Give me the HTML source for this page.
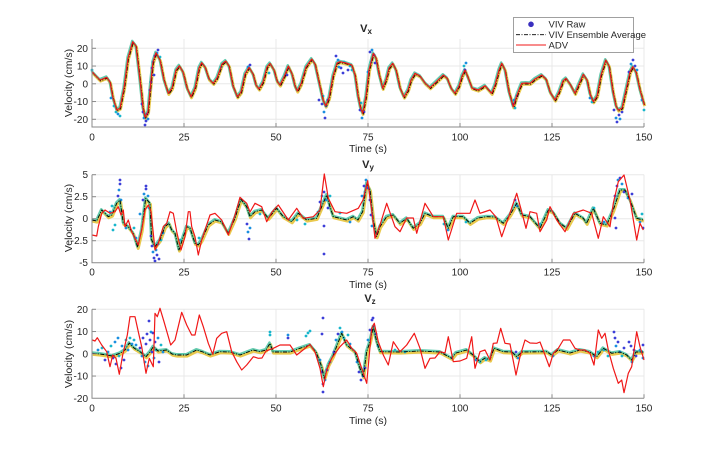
<!DOCTYPE html>
<html><head><meta charset="utf-8"><style>
html,body{margin:0;padding:0;background:#fff;}
svg{display:block;}
text{font-family:"Liberation Sans",sans-serif;fill:#262626;}
.tk{font-size:10px;}
.lb{font-size:10.5px;}
.ti{font-size:11px;font-weight:bold;}
.lg{font-size:9.5px;}
.grid line{stroke:#e8e8e8;stroke-width:1;}
.ax{stroke:#8a8a8a;stroke-width:1;fill:none;}
.yb{fill:none;stroke:#e6bf2e;stroke-width:3;stroke-linejoin:round;opacity:.85;}
.gb{fill:none;stroke:#3fbf9c;stroke-width:2.4;stroke-linejoin:round;opacity:.8;}
.bk{fill:none;stroke:#000;stroke-width:0.9;stroke-dasharray:4 1.5 1 1.5;stroke-linejoin:round;}
.rd{fill:none;stroke:#f01818;stroke-width:1.2;stroke-linejoin:round;}
.b1{fill:#3d3fd8;} .b2{fill:#1a8fe0;} .b3{fill:#18b6cc;}
</style></head><body>
<svg width="712" height="450" viewBox="0 0 712 450" xmlns="http://www.w3.org/2000/svg">
<rect width="712" height="450" fill="#fff"/>
<defs>
<polyline id="vx" points="92,71.7 96,76 100,80 106.7,77.3 110,82 113,98 116.7,110 120,108 124,88 128,58 132.7,41.7 136,46 140,80 143,108 145,117.3 148,112 151,80 153,62 156,52.7 160,60 164,80 168.3,93.3 172,88 176,70 179.3,65.7 183,72 187,88 191,96.7 195,88 199,68 201.7,62.7 205,67 209,79 213.3,83.3 217,78 222,64 225.7,61 229,66 233,86 237.3,96.7 241,92 245,74 249,67.3 253,74 256,85 259,89 263,82 267,67 270,63.3 274,70 277,81 280,85 284,77 288.3,66 292,74 295,86 297.3,91 301,84 306,67 311.7,59 315,64 319,82 323,100 325.7,106 329,98 333,76 337,63 340,61.7 346,63 351.7,65 355,75 358,96 360.5,108 362.7,113.3 366,96 369,70 373.3,53.3 376,58 379,74 382.7,88.3 386,80 389,68 392.7,63.3 396,70 400,88 404,97 408,90 411,80 415,73.3 420,76 425,83 430,87.7 436,82 443.3,75 447,78 451,88 455,93.3 459,86 462,76 465,70 469,80 472,88 478,90 485,85.7 491.7,93.3 495,85 499,70 501.7,63.3 505,70 509,92 513.3,106.7 517,95 521.7,83.3 526,83 530,83.3 535,79 541.7,75 546,79 550,92 555,100 559,92 563,81 566,78.3 570,84 575,93.3 579,84 583.3,74.3 587,80 590,94 593.3,101.7 597,96 601,75 605.7,60 609,66 613,92 616,106 618.3,110 622,108 626,90 630,72 632.7,66.7 636,72 640,90 644.3,105"/>
<polyline id="vy" points="92,220 96.7,221 101.7,210 108.3,216.7 112,215 116.7,203.3 120,200 123.3,223.3 128.3,226.7 133.3,233.3 137.7,247.3 141.7,230 145.7,198.3 150,203.3 151.7,240 155,246.7 160,240 165,226.7 169,223.3 171.7,230 175,233.3 179,250 183.3,236.7 186.7,226.7 190,228 195,243.3 198.3,245 201.7,240 208.3,225 215,220 221.7,222 228.3,233.3 235,218.3 241,199.3 246.7,206.7 250,216.7 255,211.7 261.7,210 268.3,218.3 276.7,208.3 283.3,216.7 291.7,221.7 298.3,213.3 306.7,220 316.7,218.3 321.7,206.7 326.7,195 330,206.7 333.3,216.7 340,218.3 346.7,220 353.3,216.7 358,220 362.7,211.7 366.7,183.3 370,190 373.3,220 376.7,236.7 380,226.7 386.7,216.7 393.3,215 400,223.3 406.7,218.3 413.3,228.3 420,223.3 425,213.3 433.3,216.7 443.3,216.7 448.3,228.3 453.3,216.7 463.3,216.7 470,223.3 478,218 486.7,216.7 495,217 503.3,223.3 510,215 516.7,203.3 521.7,215 530,216.7 540,228.3 548.3,210 553,212 560,223.3 566.7,228.3 575,213.3 583.3,218.3 586.7,223.3 593.3,208.3 600,223.3 606.7,225 613.3,210 620,190 625,190 630,200 636.7,218.3 643.3,220"/>
<polyline id="vz" points="92.3,353.3 100,354 106.7,355 112,356 120,353.3 125,350 129.3,343 134,348 140,351.7 146,356.7 150,352 153.3,346.7 158,351 166.7,350 172,354 176.7,355 186.7,355 196.7,350 203,352 210,355 220,351.7 230,352 240,355 253.3,350 260,351.7 266,350 270,343.3 273,352 280,352 290,352 300,348.3 310,345 316,352 321.7,366.7 324.3,378.3 328.3,365 333,356 341.7,333.3 346.7,345 355,351.7 360,368.3 363.3,376.7 366.7,351.7 370,341.7 373.3,326.7 376.7,341.7 380,351.7 400,352 420,351 440,352 451.7,358.3 456,353 466.7,350 473,355 480,361.7 485,358 490,360 494,348.3 503.3,351.7 512,352 516.7,356.7 522,352 546.7,351.7 551.7,355 558,350 570,353 580,350 590,352 596.7,356.7 603.3,348.3 611.7,353.3 620,352 626.7,355 631.7,360 636,352 643.3,352"/>
</defs>

<!-- ===== Subplot 1 ===== -->
<g class="grid">
<line x1="92" y1="39" x2="92" y2="127"/><line x1="184" y1="39" x2="184" y2="127"/><line x1="276" y1="39" x2="276" y2="127"/><line x1="368" y1="39" x2="368" y2="127"/><line x1="460" y1="39" x2="460" y2="127"/><line x1="552" y1="39" x2="552" y2="127"/><line x1="644" y1="39" x2="644" y2="127"/>
<line x1="92" y1="48.3" x2="644" y2="48.3"/><line x1="92" y1="66.05" x2="644" y2="66.05"/><line x1="92" y1="83.8" x2="644" y2="83.8"/><line x1="92" y1="101.55" x2="644" y2="101.55"/><line x1="92" y1="119.3" x2="644" y2="119.3"/>
</g>
<use href="#vx" class="yb" transform="translate(0.5,1.1)"/>
<use href="#vx" class="gb" transform="translate(-0.5,-0.8)"/>
<g>
<circle class="b3" cx="92" cy="70" r="1.4"/><circle class="b3" cx="114" cy="106" r="1.4"/><circle class="b3" cx="116" cy="112" r="1.4"/><circle class="b2" cx="118" cy="114" r="1.4"/><circle class="b3" cx="120" cy="116" r="1.4"/><circle class="b2" cx="111" cy="98" r="1.4"/>
<circle class="b1" cx="142" cy="104" r="1.4"/><circle class="b1" cx="143" cy="112" r="1.4"/><circle class="b2" cx="144" cy="118" r="1.4"/><circle class="b1" cx="145" cy="125" r="1.4"/><circle class="b1" cx="146" cy="121" r="1.4"/><circle class="b2" cx="148" cy="119" r="1.4"/><circle class="b1" cx="147" cy="114" r="1.4"/>
<circle class="b1" cx="150" cy="90" r="1.4"/><circle class="b1" cx="151" cy="82" r="1.4"/><circle class="b1" cx="152" cy="68" r="1.4"/><circle class="b2" cx="153" cy="62" r="1.4"/><circle class="b1" cx="155" cy="56" r="1.4"/><circle class="b2" cx="157" cy="53" r="1.4"/><circle class="b1" cx="158" cy="50" r="1.4"/><circle class="b3" cx="160" cy="57" r="1.4"/><circle class="b1" cx="154" cy="75" r="1.4"/>
<circle class="b2" cx="248" cy="67" r="1.4"/><circle class="b1" cx="250" cy="65" r="1.4"/><circle class="b3" cx="269" cy="73" r="1.4"/><circle class="b1" cx="287" cy="75" r="1.4"/><circle class="b3" cx="221" cy="67" r="1.4"/>
<circle class="b1" cx="319" cy="100" r="1.4"/><circle class="b1" cx="322" cy="104" r="1.4"/><circle class="b2" cx="324" cy="112" r="1.4"/><circle class="b1" cx="325" cy="118" r="1.4"/><circle class="b2" cx="326" cy="106" r="1.4"/><circle class="b1" cx="328" cy="100" r="1.4"/><circle class="b3" cx="323" cy="96" r="1.4"/>
<circle class="b1" cx="336" cy="56" r="1.4"/><circle class="b2" cx="338" cy="60" r="1.4"/><circle class="b1" cx="341" cy="68" r="1.4"/><circle class="b3" cx="344" cy="62" r="1.4"/><circle class="b1" cx="348" cy="70" r="1.4"/><circle class="b3" cx="350" cy="66" r="1.4"/><circle class="b2" cx="339" cy="67" r="1.4"/><circle class="b1" cx="343" cy="73" r="1.4"/><circle class="b3" cx="352" cy="70" r="1.4"/>
<circle class="b1" cx="360" cy="110" r="1.4"/><circle class="b2" cx="362" cy="118" r="1.4"/><circle class="b1" cx="364" cy="112" r="1.4"/><circle class="b3" cx="361" cy="103" r="1.4"/>
<circle class="b1" cx="370" cy="52" r="1.4"/><circle class="b2" cx="372" cy="50" r="1.4"/><circle class="b1" cx="374" cy="55" r="1.4"/><circle class="b3" cx="371" cy="62" r="1.4"/><circle class="b1" cx="375" cy="63" r="1.4"/><circle class="b2" cx="368" cy="72" r="1.4"/>
<circle class="b3" cx="464" cy="66" r="1.4"/><circle class="b1" cx="465" cy="70" r="1.4"/><circle class="b2" cx="466" cy="63" r="1.4"/>
<circle class="b1" cx="513" cy="104" r="1.4"/><circle class="b2" cx="514" cy="100" r="1.4"/><circle class="b1" cx="517" cy="96" r="1.4"/><circle class="b3" cx="515" cy="108" r="1.4"/>
<circle class="b2" cx="590" cy="98" r="1.4"/><circle class="b3" cx="592" cy="102" r="1.4"/>
<circle class="b1" cx="614" cy="110" r="1.4"/><circle class="b2" cx="616" cy="118" r="1.4"/><circle class="b1" cx="617" cy="122" r="1.4"/><circle class="b1" cx="619" cy="115" r="1.4"/><circle class="b2" cx="620" cy="119" r="1.4"/><circle class="b1" cx="622" cy="112" r="1.4"/>
<circle class="b1" cx="629" cy="72" r="1.4"/><circle class="b2" cx="631" cy="64" r="1.4"/><circle class="b1" cx="633" cy="60" r="1.4"/><circle class="b1" cx="635" cy="66" r="1.4"/><circle class="b2" cx="637" cy="70" r="1.4"/>
<circle class="b2" cx="642" cy="100" r="1.4"/><circle class="b3" cx="644" cy="110" r="1.4"/>
</g>
<use href="#vx" class="bk" transform="translate(0.6,0.9)"/>
<use href="#vx" class="rd"/>
<g class="ax">
<polyline points="92,39 92,127 644,127"/>
<line x1="184" y1="127" x2="184" y2="123"/><line x1="276" y1="127" x2="276" y2="123"/><line x1="368" y1="127" x2="368" y2="123"/><line x1="460" y1="127" x2="460" y2="123"/><line x1="552" y1="127" x2="552" y2="123"/><line x1="644" y1="127" x2="644" y2="123"/>
<line x1="92" y1="48.3" x2="96" y2="48.3"/><line x1="92" y1="66.05" x2="96" y2="66.05"/><line x1="92" y1="83.8" x2="96" y2="83.8"/><line x1="92" y1="101.55" x2="96" y2="101.55"/><line x1="92" y1="119.3" x2="96" y2="119.3"/>
</g>
<g class="tk" text-anchor="end">
<text x="88" y="51.8">20</text><text x="88" y="69.5">10</text><text x="88" y="87.3">0</text><text x="88" y="105">-10</text><text x="88" y="122.8">-20</text>
</g>
<g class="tk" text-anchor="middle">
<text x="92" y="140.5">0</text><text x="184" y="140.5">25</text><text x="276" y="140.5">50</text><text x="368" y="140.5">75</text><text x="460" y="140.5">100</text><text x="552" y="140.5">125</text><text x="644" y="140.5">150</text>
</g>
<text class="lb" x="368" y="152" text-anchor="middle">Time (s)</text>
<text class="lb" transform="translate(72,83) rotate(-90)" text-anchor="middle">Velocity (cm/s)</text>
<text class="ti" x="366" y="32" text-anchor="middle">V<tspan font-size="8" dy="2">x</tspan></text>

<!-- ===== Subplot 2 ===== -->
<g class="grid">
<line x1="92" y1="174.7" x2="92" y2="262.7"/><line x1="184" y1="174.7" x2="184" y2="262.7"/><line x1="276" y1="174.7" x2="276" y2="262.7"/><line x1="368" y1="174.7" x2="368" y2="262.7"/><line x1="460" y1="174.7" x2="460" y2="262.7"/><line x1="552" y1="174.7" x2="552" y2="262.7"/><line x1="644" y1="174.7" x2="644" y2="262.7"/>
<line x1="92" y1="174.7" x2="644" y2="174.7"/><line x1="92" y1="196.7" x2="644" y2="196.7"/><line x1="92" y1="218.7" x2="644" y2="218.7"/><line x1="92" y1="240.7" x2="644" y2="240.7"/>
</g>
<use href="#vy" class="yb" transform="translate(0.5,1.1)"/>
<use href="#vy" class="gb" transform="translate(-0.5,-0.8)"/>
<g>
<circle class="b2" cx="110" cy="212" r="1.4"/><circle class="b3" cx="112" cy="206" r="1.4"/><circle class="b1" cx="118" cy="196" r="1.4"/><circle class="b2" cx="119" cy="190" r="1.4"/><circle class="b1" cx="120" cy="184" r="1.4"/><circle class="b1" cx="120" cy="180" r="1.4"/><circle class="b2" cx="121" cy="200" r="1.4"/><circle class="b3" cx="115" cy="225" r="1.4"/><circle class="b3" cx="113" cy="230" r="1.4"/><circle class="b2" cx="126" cy="228" r="1.4"/>
<circle class="b1" cx="143" cy="200" r="1.4"/><circle class="b2" cx="144" cy="194" r="1.4"/><circle class="b1" cx="146" cy="189" r="1.4"/><circle class="b1" cx="146" cy="186" r="1.4"/><circle class="b2" cx="148" cy="196" r="1.4"/><circle class="b3" cx="149" cy="208" r="1.4"/><circle class="b2" cx="140" cy="214" r="1.4"/>
<circle class="b1" cx="151" cy="236" r="1.4"/><circle class="b1" cx="152" cy="246" r="1.4"/><circle class="b2" cx="153" cy="252" r="1.4"/><circle class="b1" cx="154" cy="258" r="1.4"/><circle class="b1" cx="155" cy="261" r="1.4"/><circle class="b2" cx="156" cy="250" r="1.4"/><circle class="b1" cx="157" cy="255" r="1.4"/><circle class="b2" cx="158" cy="244" r="1.4"/><circle class="b1" cx="159" cy="259" r="1.4"/><circle class="b3" cx="161" cy="240" r="1.4"/><circle class="b2" cx="163" cy="233" r="1.4"/>
<circle class="b3" cx="134" cy="228" r="1.4"/><circle class="b2" cx="136" cy="238" r="1.4"/><circle class="b3" cx="180" cy="240" r="1.4"/><circle class="b3" cx="199" cy="238" r="1.4"/>
<circle class="b1" cx="247" cy="224" r="1.4"/><circle class="b2" cx="248" cy="232" r="1.4"/><circle class="b1" cx="249" cy="239" r="1.4"/><circle class="b2" cx="250" cy="228" r="1.4"/>
<circle class="b3" cx="260" cy="214" r="1.4"/><circle class="b3" cx="297" cy="220" r="1.4"/><circle class="b3" cx="305" cy="224" r="1.4"/>
<circle class="b1" cx="320" cy="202" r="1.4"/><circle class="b2" cx="322" cy="196" r="1.4"/><circle class="b1" cx="324" cy="192" r="1.4"/><circle class="b2" cx="326" cy="200" r="1.4"/><circle class="b1" cx="328" cy="208" r="1.4"/><circle class="b3" cx="330" cy="196" r="1.4"/><circle class="b1" cx="324" cy="226" r="1.4"/><circle class="b1" cx="324" cy="254" r="1.4"/><circle class="b3" cx="318" cy="212" r="1.4"/>
<circle class="b3" cx="340" cy="213" r="1.4"/><circle class="b2" cx="350" cy="222" r="1.4"/>
<circle class="b2" cx="362" cy="196" r="1.4"/><circle class="b1" cx="364" cy="186" r="1.4"/><circle class="b2" cx="366" cy="180" r="1.4"/><circle class="b1" cx="368" cy="188" r="1.4"/><circle class="b1" cx="370" cy="200" r="1.4"/><circle class="b3" cx="365" cy="192" r="1.4"/><circle class="b1" cx="371" cy="215" r="1.4"/><circle class="b2" cx="372" cy="226" r="1.4"/>
<circle class="b3" cx="444" cy="224" r="1.4"/><circle class="b2" cx="448" cy="230" r="1.4"/><circle class="b3" cx="466" cy="222" r="1.4"/>
<circle class="b1" cx="515" cy="200" r="1.4"/><circle class="b2" cx="517" cy="206" r="1.4"/><circle class="b3" cx="540" cy="224" r="1.4"/><circle class="b3" cx="594" cy="208" r="1.4"/><circle class="b2" cx="604" cy="222" r="1.4"/>
<circle class="b1" cx="615" cy="196" r="1.4"/><circle class="b1" cx="617" cy="186" r="1.4"/><circle class="b2" cx="618" cy="180" r="1.4"/><circle class="b1" cx="620" cy="178" r="1.4"/><circle class="b2" cx="622" cy="184" r="1.4"/><circle class="b1" cx="624" cy="192" r="1.4"/><circle class="b1" cx="615" cy="218" r="1.4"/><circle class="b1" cx="616" cy="228" r="1.4"/><circle class="b2" cx="628" cy="198" r="1.4"/><circle class="b1" cx="632" cy="194" r="1.4"/>
<circle class="b2" cx="640" cy="222" r="1.4"/><circle class="b1" cx="643" cy="228" r="1.4"/><circle class="b3" cx="642" cy="214" r="1.4"/>
</g>
<use href="#vy" class="bk"/>
<polyline class="rd" points="92,235 96.7,236 98.3,226.7 101.7,213.3 105,210 110,213.3 115,211.7 118.3,206.7 121,215 123.3,210 125,226.7 128.3,220 131.7,231.7 135,238.3 138.3,245 142.3,226.7 145,210 148.3,205 151,211.7 153.3,233.3 155,250 158.3,243.3 163.3,226.7 166.7,223.3 170,211.7 173.3,213.3 176.7,231.7 181,250 185,236.7 188.3,211.7 190,211.7 191.7,226.7 195,236.7 198.3,255 201.7,240 205,230 210,215 215,213.3 221.7,220 228.3,235 235,215 240,197.3 246.7,203.3 250,212 255,203.3 261.7,206.7 266.7,221.7 272,212 278.3,205 283,212 288.3,220 296.7,208.3 303.3,218.3 313.3,216.7 320,210 324.3,174 328.3,198.3 335,211.7 346.7,213.3 358.3,208.3 363,200 367.7,180.7 371.7,210 375,238.3 380,225 386.7,203.3 395,226.7 400,231.7 406.7,218 413.3,218 416.7,233.3 425,203.3 433.3,216.7 443.3,216.7 448.3,240 456.7,213.3 470,213.3 475,200 480,213.3 484,212 490,210 496,217 501.7,236.7 510,213 516.7,193.3 521.7,211.7 526,228.3 530,211.7 536.7,213.3 540,231.7 546.7,220 550,206.7 556.7,220 565,231.7 573.3,213.3 583.3,210 591.7,213.3 598.3,238.3 603.3,216.7 610,226.7 613.3,203.3 618.3,181.7 624,175 630,200 636.7,240 640,223.3 643.3,230"/>
<g class="ax">
<polyline points="92,174.7 92,262.7 644,262.7"/>
<line x1="184" y1="262.7" x2="184" y2="258.7"/><line x1="276" y1="262.7" x2="276" y2="258.7"/><line x1="368" y1="262.7" x2="368" y2="258.7"/><line x1="460" y1="262.7" x2="460" y2="258.7"/><line x1="552" y1="262.7" x2="552" y2="258.7"/><line x1="644" y1="262.7" x2="644" y2="258.7"/>
<line x1="92" y1="174.7" x2="96" y2="174.7"/><line x1="92" y1="196.7" x2="96" y2="196.7"/><line x1="92" y1="218.7" x2="96" y2="218.7"/><line x1="92" y1="240.7" x2="96" y2="240.7"/>
</g>
<g class="tk" text-anchor="end">
<text x="88" y="178.2">5</text><text x="88" y="200.2">2.5</text><text x="88" y="222.2">0</text><text x="88" y="244.2">-2.5</text><text x="88" y="266.2">-5</text>
</g>
<g class="tk" text-anchor="middle">
<text x="92" y="275.5">0</text><text x="184" y="275.5">25</text><text x="276" y="275.5">50</text><text x="368" y="275.5">75</text><text x="460" y="275.5">100</text><text x="552" y="275.5">125</text><text x="644" y="275.5">150</text>
</g>
<text class="lb" x="368" y="288" text-anchor="middle">Time (s)</text>
<text class="lb" transform="translate(72,218) rotate(-90)" text-anchor="middle">Velocity (cm/s)</text>
<text class="ti" x="368" y="168" text-anchor="middle">V<tspan font-size="8" dy="2">y</tspan></text>

<!-- ===== Subplot 3 ===== -->
<g class="grid">
<line x1="92" y1="309.3" x2="92" y2="398.3"/><line x1="184" y1="309.3" x2="184" y2="398.3"/><line x1="276" y1="309.3" x2="276" y2="398.3"/><line x1="368" y1="309.3" x2="368" y2="398.3"/><line x1="460" y1="309.3" x2="460" y2="398.3"/><line x1="552" y1="309.3" x2="552" y2="398.3"/><line x1="644" y1="309.3" x2="644" y2="398.3"/>
<line x1="92" y1="309.3" x2="644" y2="309.3"/><line x1="92" y1="331.55" x2="644" y2="331.55"/><line x1="92" y1="353.8" x2="644" y2="353.8"/><line x1="92" y1="376.05" x2="644" y2="376.05"/>
</g>
<use href="#vz" class="yb" transform="translate(0.5,1.1)"/>
<use href="#vz" class="gb" transform="translate(-0.5,-0.8)"/>
<g>
<circle class="b2" cx="98" cy="350" r="1.4"/><circle class="b3" cx="102" cy="348" r="1.4"/><circle class="b1" cx="105" cy="360" r="1.4"/><circle class="b2" cx="108" cy="352" r="1.4"/><circle class="b3" cx="111" cy="346" r="1.4"/><circle class="b1" cx="113" cy="358" r="1.4"/><circle class="b2" cx="115" cy="342" r="1.4"/><circle class="b1" cx="116" cy="364" r="1.4"/><circle class="b2" cx="118" cy="338" r="1.4"/><circle class="b3" cx="119" cy="356" r="1.4"/><circle class="b1" cx="121" cy="368" r="1.4"/><circle class="b2" cx="122" cy="346" r="1.4"/><circle class="b1" cx="124" cy="360" r="1.4"/><circle class="b3" cx="126" cy="340" r="1.4"/><circle class="b2" cx="128" cy="350" r="1.4"/><circle class="b3" cx="130" cy="338" r="1.4"/><circle class="b2" cx="132" cy="344" r="1.4"/><circle class="b3" cx="134" cy="340" r="1.4"/><circle class="b2" cx="136" cy="345" r="1.4"/>
<circle class="b1" cx="140" cy="348" r="1.4"/><circle class="b2" cx="142" cy="356" r="1.4"/><circle class="b1" cx="143" cy="338" r="1.4"/><circle class="b2" cx="145" cy="362" r="1.4"/><circle class="b1" cx="146" cy="344" r="1.4"/><circle class="b1" cx="147" cy="334" r="1.4"/><circle class="b2" cx="148" cy="366" r="1.4"/><circle class="b1" cx="149" cy="321" r="1.4"/><circle class="b1" cx="150" cy="340" r="1.4"/><circle class="b2" cx="151" cy="332" r="1.4"/><circle class="b1" cx="152" cy="352" r="1.4"/><circle class="b1" cx="153" cy="333" r="1.4"/><circle class="b2" cx="154" cy="358" r="1.4"/><circle class="b1" cx="155" cy="342" r="1.4"/><circle class="b3" cx="156" cy="350" r="1.4"/><circle class="b2" cx="158" cy="338" r="1.4"/><circle class="b1" cx="159" cy="362" r="1.4"/><circle class="b3" cx="161" cy="345" r="1.4"/><circle class="b2" cx="163" cy="352" r="1.4"/>
<circle class="b3" cx="270" cy="335" r="1.4"/><circle class="b3" cx="270" cy="332" r="1.4"/><circle class="b2" cx="288" cy="335" r="1.4"/><circle class="b1" cx="288" cy="338" r="1.4"/>
<circle class="b3" cx="306" cy="336" r="1.4"/><circle class="b3" cx="308" cy="333" r="1.4"/><circle class="b3" cx="310" cy="331" r="1.4"/><circle class="b1" cx="323" cy="318" r="1.4"/><circle class="b1" cx="322" cy="334" r="1.4"/>
<circle class="b2" cx="320" cy="360" r="1.4"/><circle class="b1" cx="322" cy="372" r="1.4"/><circle class="b1" cx="323" cy="384" r="1.4"/><circle class="b1" cx="323" cy="392" r="1.4"/><circle class="b2" cx="325" cy="380" r="1.4"/><circle class="b1" cx="327" cy="370" r="1.4"/><circle class="b2" cx="330" cy="362" r="1.4"/>
<circle class="b2" cx="336" cy="340" r="1.4"/><circle class="b1" cx="338" cy="334" r="1.4"/><circle class="b3" cx="340" cy="328" r="1.4"/><circle class="b2" cx="342" cy="332" r="1.4"/><circle class="b3" cx="344" cy="338" r="1.4"/><circle class="b3" cx="348" cy="335" r="1.4"/><circle class="b2" cx="350" cy="344" r="1.4"/><circle class="b1" cx="334" cy="352" r="1.4"/>
<circle class="b2" cx="357" cy="362" r="1.4"/><circle class="b1" cx="359" cy="372" r="1.4"/><circle class="b1" cx="361" cy="380" r="1.4"/><circle class="b2" cx="363" cy="376" r="1.4"/><circle class="b1" cx="365" cy="368" r="1.4"/>
<circle class="b2" cx="368" cy="340" r="1.4"/><circle class="b1" cx="370" cy="330" r="1.4"/><circle class="b1" cx="372" cy="320" r="1.4"/><circle class="b1" cx="373" cy="318" r="1.4"/><circle class="b2" cx="374" cy="326" r="1.4"/><circle class="b1" cx="376" cy="334" r="1.4"/><circle class="b3" cx="378" cy="346" r="1.4"/>
<circle class="b3" cx="395" cy="350" r="1.4"/><circle class="b3" cx="405" cy="352" r="1.4"/><circle class="b3" cx="452" cy="358" r="1.4"/><circle class="b2" cx="476" cy="360" r="1.4"/><circle class="b3" cx="480" cy="362" r="1.4"/><circle class="b3" cx="486" cy="360" r="1.4"/><circle class="b1" cx="516" cy="352" r="1.4"/><circle class="b2" cx="518" cy="358" r="1.4"/><circle class="b2" cx="553" cy="356" r="1.4"/>
<circle class="b2" cx="594" cy="356" r="1.4"/><circle class="b3" cx="598" cy="352" r="1.4"/><circle class="b3" cx="604" cy="350" r="1.4"/><circle class="b3" cx="608" cy="356" r="1.4"/>
<circle class="b1" cx="614" cy="332" r="1.4"/><circle class="b1" cx="615" cy="338" r="1.4"/><circle class="b2" cx="616" cy="346" r="1.4"/><circle class="b1" cx="618" cy="342" r="1.4"/><circle class="b2" cx="620" cy="352" r="1.4"/><circle class="b3" cx="622" cy="356" r="1.4"/><circle class="b1" cx="624" cy="348" r="1.4"/><circle class="b1" cx="629" cy="342" r="1.4"/><circle class="b1" cx="631" cy="346" r="1.4"/><circle class="b2" cx="632" cy="362" r="1.4"/><circle class="b1" cx="634" cy="350" r="1.4"/><circle class="b1" cx="636" cy="356" r="1.4"/><circle class="b2" cx="640" cy="350" r="1.4"/><circle class="b1" cx="643" cy="345" r="1.4"/><circle class="b2" cx="643" cy="358" r="1.4"/><circle class="b3" cx="642" cy="352" r="1.4"/>
</g>
<use href="#vz" class="bk"/>
<polyline class="rd" points="92.3,340 95,341 97.3,337.7 101.7,345 106.7,351.7 110,366.7 112.7,355 116,358.3 119.3,374.3 122.7,355 127.3,335 130,316.7 135,316.7 138.3,331.7 141.7,346.7 146,373.3 149.3,358.3 153.3,366.7 155,313.3 157.3,316.7 160,308.3 164,321.7 170.7,345 175,340 181.7,312.3 186.7,325 191.7,335 195,335 199.3,315 203.3,326.7 208.3,343.3 212.7,354.3 216.7,338.3 221.7,333.3 226.7,331.7 231.7,351.7 236.7,361.7 241.7,370 246.7,365 253.3,356.7 258.3,358.3 262,358 266,351 273.3,348.3 280,345 290,345 296.7,355 303,350 310,344.3 315,352 320,368.3 323.3,386.7 326.7,370 331.7,358.3 340,346.7 346.7,340 351.7,348.3 356.7,353.3 361.7,368.3 366.7,383.3 371.7,328.3 374.3,323.3 378.3,341.7 383.3,355 388.3,365 393.3,341.7 400,351.7 406.7,345 414.3,333.3 420,348.3 425,368.3 430,358.3 435,358 440,351.7 445,353 448.3,336.7 453.3,361.7 460,361 466.7,358.3 471.7,336.7 475,368.3 480,351.7 485,350 490,360 493.3,343.3 497,343 500.7,328.3 505,343.3 510,344 516,375 520,356.7 525,340 530,343 536.7,343.3 540,342 545,355 549.3,366.7 553.3,353.3 558.3,348.3 563.3,340 570,340 575,348.3 580,350 585,350 590,353.3 594,365 598.3,330 601.7,338.3 605,333.3 608.3,350 613.3,368.3 618.3,383.3 621.7,380 624,392.7 628.3,373.3 631.7,366.7 636.7,331.7 640,346.7 644,360"/>
<g class="ax">
<polyline points="92,309.3 92,398.3 644,398.3"/>
<line x1="184" y1="398.3" x2="184" y2="394.3"/><line x1="276" y1="398.3" x2="276" y2="394.3"/><line x1="368" y1="398.3" x2="368" y2="394.3"/><line x1="460" y1="398.3" x2="460" y2="394.3"/><line x1="552" y1="398.3" x2="552" y2="394.3"/><line x1="644" y1="398.3" x2="644" y2="394.3"/>
<line x1="92" y1="309.3" x2="96" y2="309.3"/><line x1="92" y1="331.55" x2="96" y2="331.55"/><line x1="92" y1="353.8" x2="96" y2="353.8"/><line x1="92" y1="376.05" x2="96" y2="376.05"/>
</g>
<g class="tk" text-anchor="end">
<text x="88" y="312.8">20</text><text x="88" y="335">10</text><text x="88" y="357.3">0</text><text x="88" y="379.5">-10</text><text x="88" y="401.8">-20</text>
</g>
<g class="tk" text-anchor="middle">
<text x="92" y="411.5">0</text><text x="184" y="411.5">25</text><text x="276" y="411.5">50</text><text x="368" y="411.5">75</text><text x="460" y="411.5">100</text><text x="552" y="411.5">125</text><text x="644" y="411.5">150</text>
</g>
<text class="lb" x="368" y="424" text-anchor="middle">Time (s)</text>
<text class="lb" transform="translate(72,354) rotate(-90)" text-anchor="middle">Velocity (cm/s)</text>
<text class="ti" x="370" y="302" text-anchor="middle">V<tspan font-size="8" dy="2">z</tspan></text>

<!-- ===== Legend ===== -->
<rect x="513.5" y="17.5" width="120" height="35" fill="#fff" stroke="#a0a0a0" stroke-width="1"/>
<circle cx="531" cy="24.3" r="2.8" fill="#3a2fbf"/>
<line x1="516" y1="34.7" x2="546" y2="34.7" stroke="#000" stroke-width="0.9" stroke-dasharray="4 1.5 1 1.5"/>
<line x1="516" y1="45" x2="546" y2="45" stroke="#f01818" stroke-width="1.1"/>
<text class="lg" x="548.5" y="27.6">VIV Raw</text>
<text class="lg" x="548.5" y="38">VIV Ensemble Average</text>
<text class="lg" x="548.5" y="48.3">ADV</text>
</svg>
</body></html>
